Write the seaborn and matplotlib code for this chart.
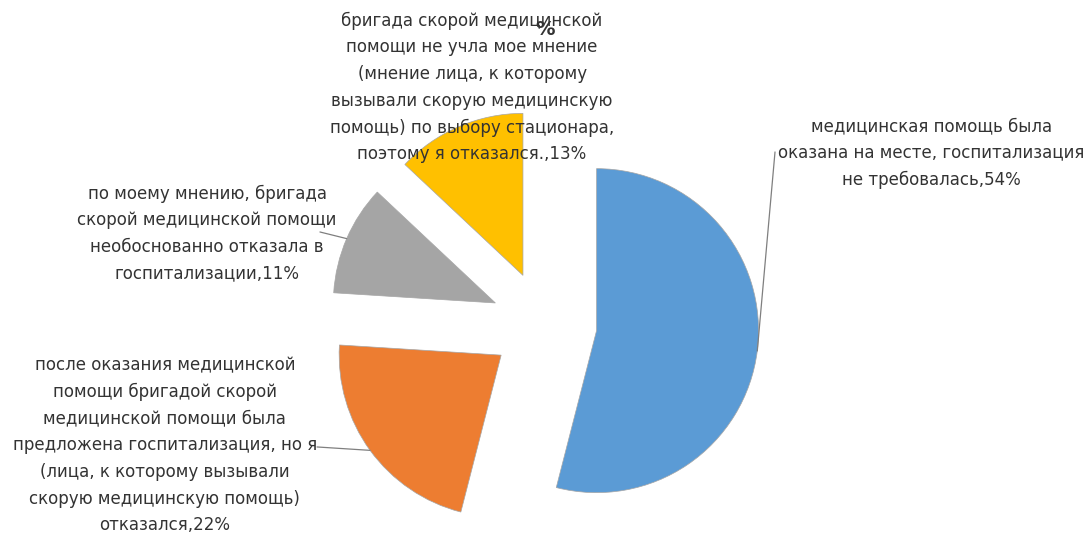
import matplotlib
matplotlib.use("Agg")
import numpy as np
import matplotlib.pyplot as plt
import seaborn as sns

# answers and their shares, %
categories = [
    "медицинская помощь была\nоказана на месте, госпитализация\nне требовалась",
    "после оказания медицинской\nпомощи бригадой скорой\nмедицинской помощи была\n"
    "предложена госпитализация, но я\n(лица, к которому вызывали\n"
    "скорую медицинскую помощь)\nотказался",
    "по моему мнению, бригада\nскорой медицинской помощи\nнеобоснованно отказала в\n"
    "госпитализации",
    "бригада скорой медицинской\nпомощи не учла мое мнение\n(мнение лица, к которому\n"
    "вызывали скорую медицинскую\nпомощь) по выбору стационара,\nпоэтому я отказался.",
]
shares = [54, 22, 11, 13]
title = "%"

colors = ["#5B9BD5", "#ED7D31", "#A5A5A5", "#FFC000"]

# label centres and leader-line ends, in pie radii
label_pos = [(2.39, 1.056), (-2.34, -0.747), (-2.08, 0.559), (-0.444, 1.46)]
leader_end = [(1.426, 1.062), (-1.401, -0.759), (-1.383, 0.568), None]

sns.set_theme(style="white")
plt.rcParams["font.family"] = ["DejaVu Sans"]

fig = plt.figure(figsize=(10.91, 5.33), dpi=100)
ax = fig.add_axes([0, 0, 1, 1])

wedges, _ = ax.pie(
    shares,
    colors=colors,
    startangle=90,
    counterclock=False,
    explode=[0.327] * len(shares),
    wedgeprops=dict(edgecolor="#a6a6a6", linewidth=0.5),
)

text_color = "#333333"
for w, cat, v, pos, end in zip(wedges, categories, shares, label_pos, leader_end):
    ax.text(pos[0], pos[1], f"{cat},{v}%", ha="center", va="center",
            fontsize=12, color=text_color, linespacing=1.62, zorder=5)
    if end is not None:
        mid = np.deg2rad((w.theta1 + w.theta2) / 2)
        sx = w.center[0] + w.r * np.cos(mid)
        sy = w.center[1] + w.r * np.sin(mid)
        ax.plot([sx, end[0]], [sy, end[1]], color="#7f7f7f", lw=0.9, zorder=4)

ax.text(0.006, 1.815, title, ha="center", va="center", fontsize=14,
        fontweight="bold", color=text_color, zorder=6)

ax.set_aspect("auto")
ax.set_xlim(-544 / 162, 547 / 162)
ax.set_ylim(-209 / 162, 324 / 162)
ax.axis("off")

fig.savefig("out.png", dpi=100, facecolor="white")
